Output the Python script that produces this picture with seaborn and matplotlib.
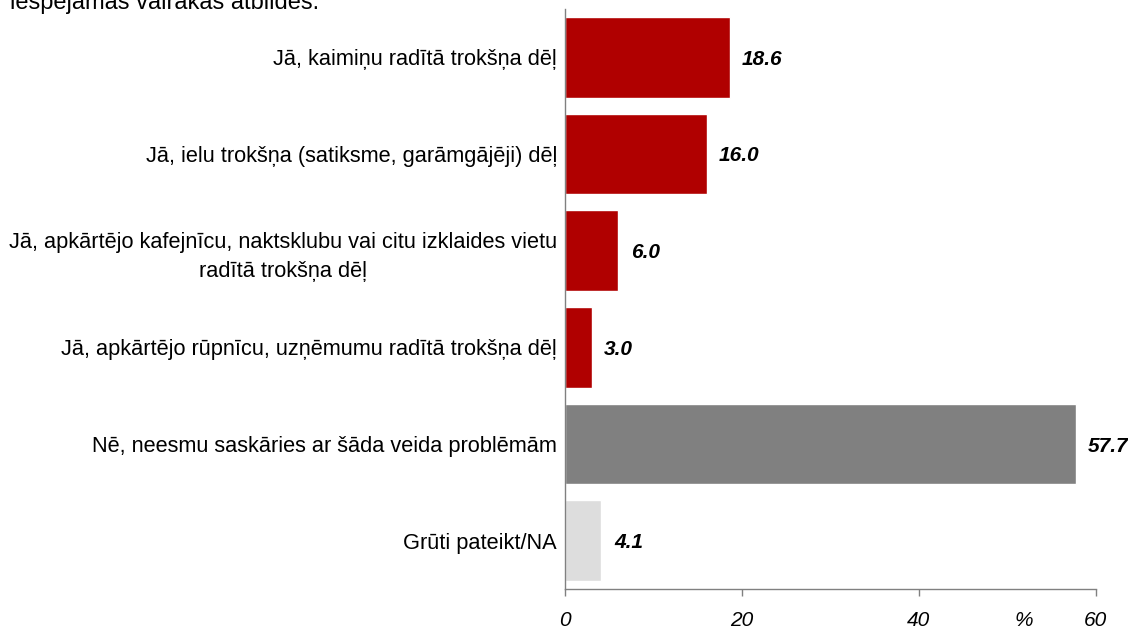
import matplotlib
matplotlib.use("Agg")
import matplotlib.pyplot as plt
import seaborn as sns

sns.set_theme(style="white")
plt.rcParams['font.family'] = ['Liberation Sans', 'DejaVu Sans']
plt.rcParams['text.color'] = 'black'
plt.rcParams['xtick.color'] = 'black'
plt.rcParams['ytick.color'] = 'black'

# data
categories = [
    "Jā, kaimiņu radītā trokšņa dēļ",
    "Jā, ielu trokšņa (satiksme, garāmgājēji) dēļ",
    "Jā, apkārtējo kafejnīcu, naktsklubu vai citu izklaides vietu\nradītā trokšņa dēļ",
    "Jā, apkārtējo rūpnīcu, uzņēmumu radītā trokšņa dēļ",
    "Nē, neesmu saskāries ar šāda veida problēmām",
    "Grūti pateikt/NA",
]
values = [18.6, 16.0, 6.0, 3.0, 57.7, 4.1]
bar_colors = ["#B00000", "#B00000", "#B00000", "#B00000", "#808080", "#DDDDDD"]
x_ticks = [0, 20, 40, 60]

fig = plt.figure(figsize=(11.28, 6.32), dpi=100)
ax = fig.add_axes([0.501, 0.068, 0.4705, 0.918])

sns.barplot(x=values, y=categories, hue=categories, palette=bar_colors,
            legend=False, width=0.835, orient="h", ax=ax, saturation=1)

ax.set_xlim(0, 60)
ax.set_xticks(x_ticks)
ax.set_xticklabels([str(t) for t in x_ticks], fontsize=15, fontstyle="italic")
ax.tick_params(axis="x", bottom=True, direction="out", length=5, width=1,
               color="#808080", labelcolor="black", pad=11)
ax.tick_params(axis="y", left=False, length=0, pad=6, labelcolor="black")
for lab in ax.get_yticklabels():
    lab.set_fontsize(15.7)
    lab.set_multialignment("center")
    lab.set_linespacing(1.5)

for s in ["top", "right"]:
    ax.spines[s].set_visible(False)
for s in ["left", "bottom"]:
    ax.spines[s].set_color("#808080")
    ax.spines[s].set_linewidth(1)

for i, v in enumerate(values):
    ax.annotate(f"{v:.1f}", xy=(v, i), xytext=(9, -1.5), textcoords="offset points",
                va="center", ha="left", fontsize=15, fontweight="bold",
                fontstyle="italic", color="black")

ax.set_xlabel("")
ax.set_ylabel("")
fig.text(0.9075, 0.0095, "%", fontsize=15, fontstyle="italic", ha="center", va="baseline")
fig.text(0.009, 0.9858, "iespējamas vairākas atbildes.", fontsize=17, ha="left", va="baseline")

fig.savefig("out.png", dpi=100)
